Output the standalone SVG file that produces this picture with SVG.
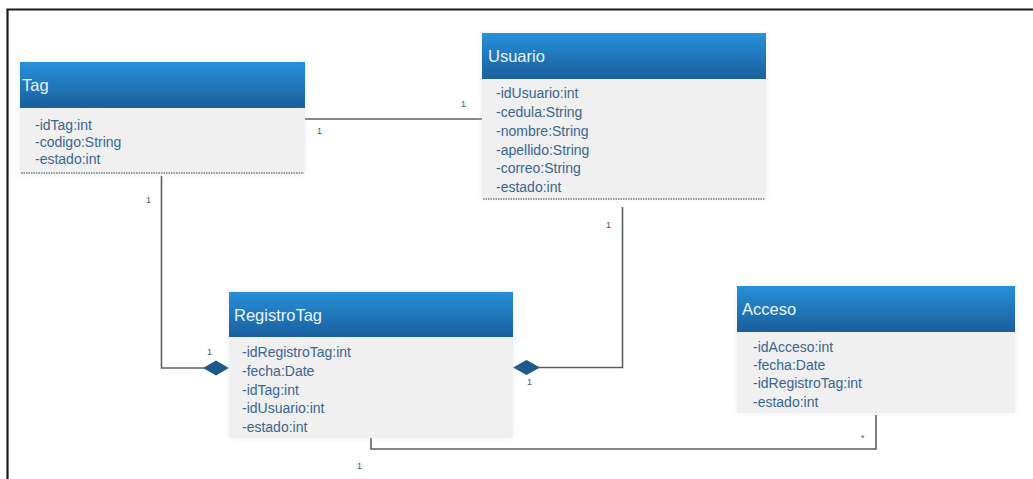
<svg xmlns="http://www.w3.org/2000/svg" width="1033" height="479" viewBox="0 0 1033 479">
<style>
.hdr{fill:url(#hg);}
.body{fill:#f0f0f0;}
.title{font-family:"Liberation Sans",Arial,sans-serif;font-size:16.5px;fill:#eaf5ff;}
.attr{font-family:"Liberation Sans",Arial,sans-serif;font-size:14px;fill:#3a6590;}
.sep{stroke:#9a9a9a;stroke-width:2;stroke-dasharray:1.5 1;}
.conn{fill:none;stroke:#5a5f66;stroke-width:1.6;}
.dia{fill:#1e5a8e;}
.lbl{font-family:"Liberation Sans",Arial,sans-serif;font-size:9px;fill:#555;}
.frame{stroke:#1a1a1a;stroke-width:2.2;fill:none;}
</style>
<defs>
<linearGradient id="hg" x1="0" y1="0" x2="0" y2="1">
<stop offset="0" stop-color="#2790da"/>
<stop offset="1" stop-color="#1a5f9c"/>
</linearGradient>
<filter id="sh" x="-10%" y="-10%" width="120%" height="120%">
<feGaussianBlur stdDeviation="3"/>
</filter>
</defs>
<rect width="1033" height="479" fill="#ffffff"/>
<path class="frame" d="M7.5,479 V9.5 H1033"/>

<g id="connectors">
<path class="conn" d="M305,119 H482"/>
<path class="conn" d="M161.5,176 V368 H204"/>
<polygon class="dia" points="203,368 216,360.5 229,368 216,375.5"/>
<path class="conn" d="M622.5,207 V367.5 H538"/>
<polygon class="dia" points="513,367.5 526.5,360 540,367.5 526.5,375"/>
<path class="conn" d="M371,438 V449 H876 V415"/>
<text class="lbl" x="317" y="134">1</text>
<text class="lbl" x="461" y="107">1</text>
<text class="lbl" x="146" y="203">1</text>
<text class="lbl" x="207" y="355">1</text>
<text class="lbl" x="606" y="228">1</text>
<text class="lbl" x="527" y="385">1</text>
<text class="lbl" x="861" y="441">*</text>
<text class="lbl" x="357" y="469">1</text>
</g>

<g id="tag">
<rect x="20" y="62" width="285" height="113" fill="#c8d8e8" opacity="0.35" filter="url(#sh)"/>
<rect class="hdr" x="20" y="62" width="285" height="46"/>
<rect class="body" x="20" y="108" width="285" height="66"/>
<line class="sep" x1="21" y1="173" x2="304" y2="173"/>
<text class="title" x="22" y="91">Tag</text>
<text class="attr" x="35" y="130">-idTag:int</text>
<text class="attr" x="35" y="147">-codigo:String</text>
<text class="attr" x="35" y="164">-estado:int</text>
</g>

<g id="usuario">
<rect x="482" y="33" width="284" height="166" fill="#c8d8e8" opacity="0.35" filter="url(#sh)"/>
<rect class="hdr" x="482" y="33" width="284" height="46"/>
<rect class="body" x="482" y="79" width="284" height="120"/>
<line class="sep" x1="483" y1="199" x2="765" y2="199"/>
<text class="title" x="488" y="62">Usuario</text>
<text class="attr" x="496" y="98">-idUsuario:int</text>
<text class="attr" x="496" y="117">-cedula:String</text>
<text class="attr" x="496" y="136">-nombre:String</text>
<text class="attr" x="496" y="155">-apellido:String</text>
<text class="attr" x="496" y="173">-correo:String</text>
<text class="attr" x="496" y="192">-estado:int</text>
</g>

<g id="registrotag">
<rect x="229" y="292" width="284" height="146" fill="#c8d8e8" opacity="0.35" filter="url(#sh)"/>
<rect class="hdr" x="229" y="292" width="284" height="45"/>
<rect class="body" x="229" y="337" width="284" height="101"/>
<text class="title" x="234" y="321">RegistroTag</text>
<text class="attr" x="242" y="357">-idRegistroTag:int</text>
<text class="attr" x="242" y="376">-fecha:Date</text>
<text class="attr" x="242" y="395">-idTag:int</text>
<text class="attr" x="242" y="413">-idUsuario:int</text>
<text class="attr" x="242" y="432">-estado:int</text>
</g>

<g id="acceso">
<rect x="737" y="286" width="278" height="127" fill="#c8d8e8" opacity="0.35" filter="url(#sh)"/>
<rect class="hdr" x="737" y="286" width="278" height="46"/>
<rect class="body" x="737" y="332" width="278" height="81"/>
<text class="title" x="742" y="315">Acceso</text>
<text class="attr" x="753" y="352">-idAcceso:int</text>
<text class="attr" x="753" y="370">-fecha:Date</text>
<text class="attr" x="753" y="388">-idRegistroTag:int</text>
<text class="attr" x="753" y="407">-estado:int</text>
</g>
</svg>
